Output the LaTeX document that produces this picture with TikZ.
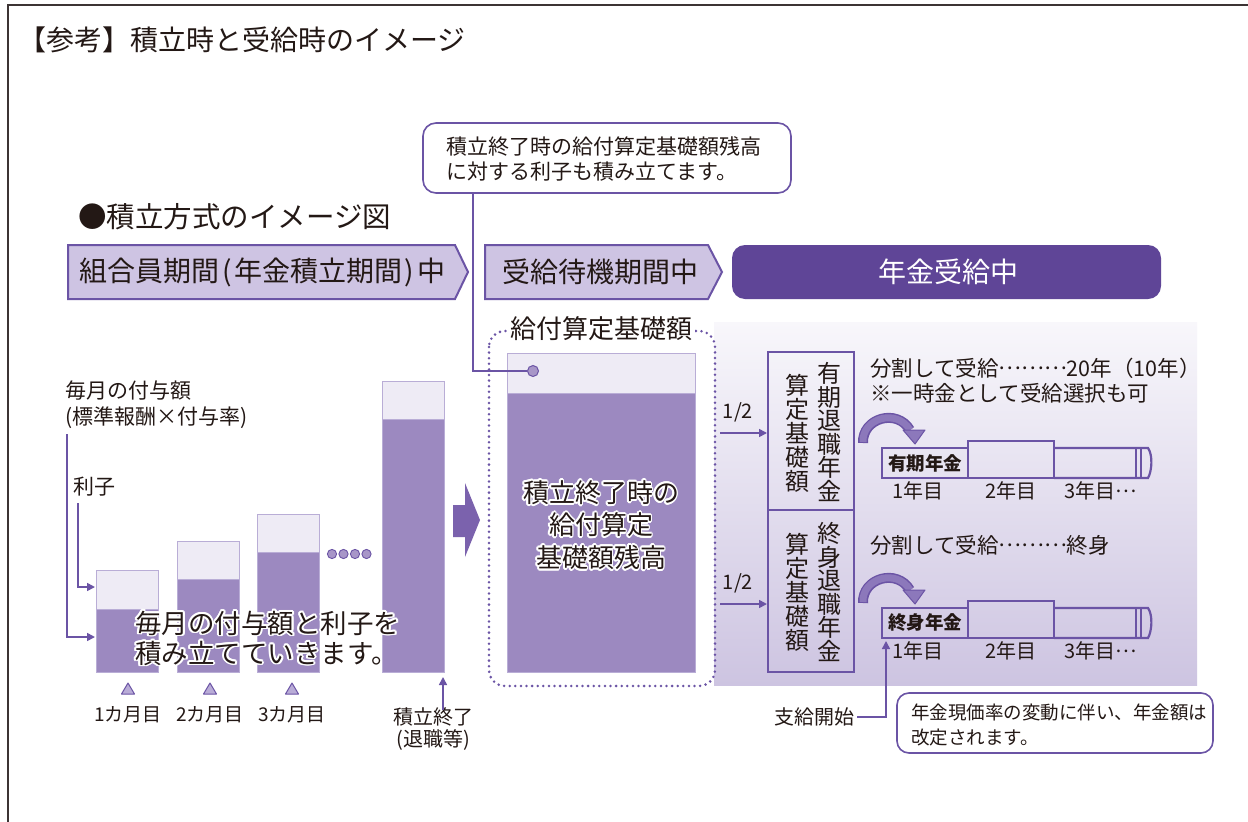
\documentclass[tikz,border=0pt]{standalone}
\usepackage{fontspec}
\setmainfont{Noto Sans CJK JP}
\usetikzlibrary{arrows.meta,calc}
\definecolor{pdark}{HTML}{5F4597}
\definecolor{pline}{HTML}{6B54A5}
\definecolor{pfill}{HTML}{CEC4E3}
\definecolor{pbar}{HTML}{9C89C0}
\definecolor{plight}{HTML}{EEEBF5}
\definecolor{pedge}{HTML}{B9ADD6}
\definecolor{parrow}{HTML}{7B62AD}
\definecolor{pcurve}{HTML}{8C78BB}
\definecolor{pdot}{HTML}{A896C8}
\definecolor{ptri}{HTML}{B9ACD7}
\definecolor{ink}{HTML}{231815}
\definecolor{framec}{HTML}{3C3434}
\definecolor{gtop}{HTML}{F8F7FB}
\definecolor{gbot}{HTML}{CDC4E1}
\newcommand{\fz}[1]{\fontsize{#1}{#1}\selectfont}
\newcommand{\fw}[1]{\raisebox{0.32em}{#1}}
\newcommand{\halo}[4]{%
  \foreach \hang in {0,30,...,330}{\node[txt,#1,text=white] (#4w\hang) at ($(#2)+(\hang:1.9)$) {#3};}%
  \node[txt,#1] (#4) at (#2) {#3};}
\tikzset{
  txt/.style={inner sep=0pt, text=ink},
  conn/.style={draw=pline, line width=1.6pt},
  tip/.style={-{Triangle[length=8pt,width=8pt]}},
  hdr/.style={draw=pline, line width=2pt, fill=pfill},
  tl/.style={draw=pline, line width=2.2pt},
  callbox/.style={draw=pline, line width=1.6pt, fill=white, inner sep=0pt},
  vbox/.style={draw=pline, line width=2pt, minimum width=86pt, inner sep=0pt},
}
\begin{document}
\begin{tikzpicture}[x=1pt,y=-1pt]
\useasboundingbox (0,0) rectangle (1248,822);
\fill[white] (0,0) rectangle (1248,822);
\draw[framec, line width=2pt] (8,822) -- (8,5) -- (1248,5);

% titles
\node[txt, anchor=west, font=\fz{28}] (title) at (18,40) {【参考】積立時と受給時のイメージ};
\node[txt, anchor=west, font=\fz{28.5}] (sub) at (78,217) {●積立方式のイメージ図};

% headers
\draw[hdr] (68,245) -- (455,245) -- (468,272) -- (455,299) -- (68,299) -- cycle;
\node[txt, anchor=west, font=\fz{28}] (h1) at (79,272) {組合員期間\hspace{3pt}(\hspace{2.5pt}年金積立期間\hspace{2.5pt})\hspace{3pt}中};
\draw[hdr] (485,245) -- (708,245) -- (722,272) -- (708,299) -- (485,299) -- cycle;
\node[txt, font=\fz{28}] (h2) at (600,272) {受給待機期間中};
\fill[pdark, rounded corners=13pt] (732,245) rectangle (1161,299);
\node[txt, text=white, font=\fz{28}] (h3) at (948,272) {年金受給中};

% gradient panel
\shade[top color=gtop, bottom color=gbot] (714,322) rectangle (1197,685);

% dotted box
\draw[pline, line width=2.8pt, line cap=round, dash pattern=on 0pt off 5.6pt, rounded corners=16pt] (489,331) rectangle (715,686);
\node[txt, fill=white, inner xsep=3pt, font=\fz{26}] (kiso) at (601,329) {給付算定基礎額};

% big bar
\fill[pbar] (507,393) rectangle (695,672);
\draw[pedge, fill=plight, line width=1pt] (507,353) rectangle (695,393);
\draw[pedge, line width=1pt] (507,353) rectangle (695,672);
\halo{font=\fontsize{26}{32.5}\selectfont, align=center}{601,525}{積立終了時の\\給付算定\\基礎額残高}{bigtxt}

% top callout
\node[callbox, rounded corners=13pt, minimum width=368pt, minimum height=70pt] (call) at (607,158) {};
\node[txt, anchor=west, align=left, font=\fontsize{21}{25}\selectfont] (calltxt) at (446,159) {積立終了時の給付算定基礎額残高\\に対する利子も積み立てます。};
\node[circle, fill=pdot, draw=pline, line width=1pt, minimum size=11pt, inner sep=0pt] (dot) at (533,371) {};
\coordinate (cx) at (473,0);
\draw[conn] (call.south -| cx) |- (dot.west);

% left labels
\node[txt, anchor=west, align=left, font=\fontsize{21}{26}\selectfont] (fuyo) at (65,405) {毎月の付与額\\(標準報酬×付与率)};
\node[txt, anchor=west, font=\fz{21}] (rishi) at (73,487) {利子};

% bars
\foreach \x/\t/\m in {96/570/609,177/541/579,257/514/552,382/381/419}{
  \fill[pbar] (\x,\m) rectangle ({\x+62},672);
  \draw[pedge, fill=plight, line width=1pt] (\x,\t) rectangle ({\x+62},\m);
  \draw[pedge, line width=0.8pt] (\x,\t) rectangle ({\x+62},672);
}
\coordinate (fuyoL) at (67,434);
\coordinate (rishiL) at (78,503);
\coordinate (b1a) at (95,587);
\coordinate (b1b) at (95,637);
\draw[conn, tip] (fuyoL) |- (b1b);
\draw[conn, tip] (rishiL) |- (b1a);

% dots
\foreach \x in {332,343.5,355,366.5} \draw[pline, fill=pdot, line width=0.9pt] (\x,554) circle[radius=4.6pt];

% overlay text
\halo{font=\fontsize{26.5}{30}\selectfont, align=left, anchor=west}{135,638}{毎月の付与額と利子を\\積み立てていきます。}{lefttxt}

% triangles and month labels
\foreach \x/\l [count=\i] in {128/1カ月目, 210/2カ月目, 292/3カ月目}{
  \draw[pline, fill=ptri, line width=1pt, line join=round] ({\x-6.5},694) -- ({\x+6.5},694) -- (\x,683) -- cycle;
  \node[txt, font=\fz{19}] (mon\i) at (\x,715) {\l};
}

% end of accumulation
\coordinate (b4r) at (443,677);
\node[txt, align=center, font=\fontsize{20}{22}\selectfont] (endacc) at (433,729) {積立終了\\(退職等)};
\draw[conn, tip] ([yshift=-3pt]endacc.north -| b4r) -- (b4r);

% block arrow
\fill[parrow] (453,505) -- (465,505) -- (465,483) -- (480,520) -- (465,557) -- (465,537) -- (453,537) -- cycle;

% vertical boxes
\node[vbox, minimum height=158pt] (vb1) at (811,431) {};
\node[vbox, minimum height=162pt] (vb2) at (811,591) {};
\node[txt, align=center, font=\fontsize{24}{23.5}\selectfont] (v1r) at (829,432) {有\\期\\退\\職\\年\\金};
\node[txt, align=center, font=\fontsize{24}{24}\selectfont] (v1l) at (797,433) {算\\定\\基\\礎\\額};
\node[txt, align=center, font=\fontsize{24}{23.5}\selectfont] (v2r) at (829,592) {終\\身\\退\\職\\年\\金};
\node[txt, align=center, font=\fontsize{24}{24}\selectfont] (v2l) at (797,592) {算\\定\\基\\礎\\額};

% 1/2 arrows
\node[txt, font=\fz{20}] (half1) at (738,412) {1/2};
\node[txt, font=\fz{20}] (half2) at (738,583) {1/2};
\coordinate (a1s) at (720,433);
\coordinate (a2s) at (720,604);
\draw[conn, tip] (a1s) -- (a1s -| vb1.west);
\draw[conn, tip] (a2s) -- (a2s -| vb2.west);

% right texts
\node[txt, anchor=west, align=left, font=\fontsize{21.5}{25}\selectfont] (bun1) at (870,380.5) {分割して受給\fw{………}20年（10年）\\※一時金として受給選択も可};
\node[txt, anchor=west, font=\fz{21.5}] (bun2) at (870,545) {分割して受給\fw{………}終身};

% timelines
\foreach \oy/\lab/\nm in {0/有期年金/a, 160/終身年金/b}{
 \begin{scope}[shift={(0,\oy)}]
   \draw[pline, line width=10pt] (863,443) .. controls (862,418) and (897,408) .. (910,430);
   \draw[pcurve, line width=7pt] (863,442) .. controls (862,418) and (897,408) .. (910,430);
   \draw[pline, fill=pcurve, line width=1pt, line join=round] (903,430) -- (925,430) -- (915,444) -- cycle;
   \draw[tl] (882,448) rectangle (968,478);
   \node[txt, font=\bfseries\fz{18.5}] (lab\nm) at (925,463) {\lab};
   \draw[tl] (968,441) rectangle (1054,478);
   \draw[tl] (1054,448) -- (1148,448) .. controls (1153,455) and (1152,471) .. (1148,478) -- (1054,478);
   \draw[pline, line width=1.5pt] (1136,448) -- (1136,478) (1141,448) -- (1141,478);
   \node[txt, font=\fz{20}] (y1\nm) at (918,491) {1年目};
   \node[txt, font=\fz{20}] (y2\nm) at (1011,491) {2年目};
   \node[txt, font=\fz{20}, anchor=west] (y3\nm) at (1064,491) {3年目\fw{…}};
 \end{scope}
}

% payment start
\node[txt, anchor=east, font=\fz{20}] (shikyu) at (855,717) {支給開始};
\coordinate (start) at (886,641);
\draw[conn, tip] ([xshift=2pt]shikyu.east) -| (start);

% bottom callout
\node[callbox, rounded corners=12pt, minimum width=316pt, minimum height=60pt] (call2) at (1055,723) {};
\node[txt, anchor=west, align=left, font=\fontsize{18.5}{25}\selectfont] (call2txt) at (911,724.5) {年金現価率の変動に伴い、年金額は\\改定されます。};
\end{tikzpicture}
\end{document}
